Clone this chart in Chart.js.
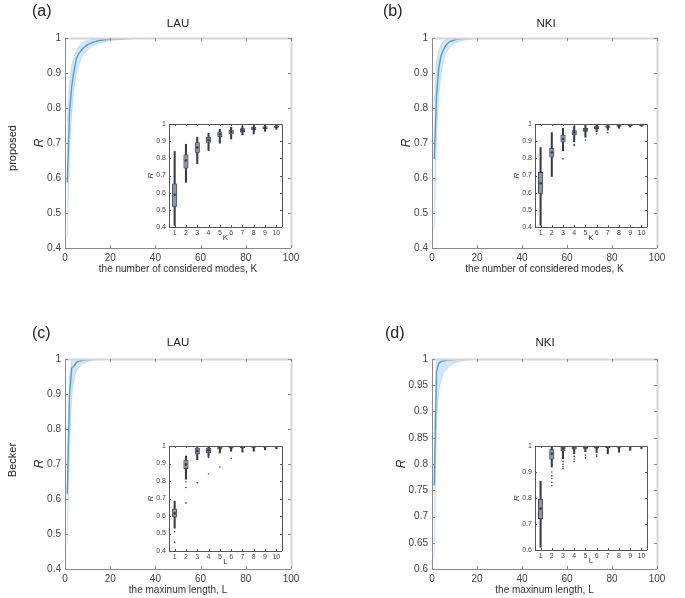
<!DOCTYPE html>
<html>
<head>
<meta charset="utf-8">
<script src="https://cdn.jsdelivr.net/npm/chart.js@4.4.1/dist/chart.umd.min.js"></script>
<style>
  body { margin: 0; background: #fff; }
  #fig { position: relative; width: 685px; height: 598px; overflow: hidden; font-family: "Liberation Sans", Arial, sans-serif; color: #222; }
  canvas { position: absolute; }
  .lbl { position: absolute; white-space: nowrap; line-height: 1; }
  .panel { font-size: 16px; }
  .ttl { font-size: 11.5px; transform: translateX(-50%); }
  .row { font-size: 11px; transform: translate(-50%, -50%) rotate(-90deg); }
</style>
</head>
<body>
<div id="fig">
  <canvas id="mainA" width="340" height="300" style="left:0;top:0"></canvas>
  <canvas id="mainB" width="345" height="300" style="left:340px;top:0"></canvas>
  <canvas id="mainC" width="340" height="298" style="left:0;top:300px"></canvas>
  <canvas id="mainD" width="345" height="298" style="left:340px;top:300px"></canvas>
  <canvas id="insetA"></canvas>
  <canvas id="insetB"></canvas>
  <canvas id="insetC"></canvas>
  <canvas id="insetD"></canvas>

  <div class="lbl panel" style="left:32px;top:3px">(a)</div>
  <div class="lbl panel" style="left:383px;top:3px">(b)</div>
  <div class="lbl panel" style="left:32px;top:325px">(c)</div>
  <div class="lbl panel" style="left:385px;top:325px">(d)</div>
  <div class="lbl ttl" style="left:178px;top:18px">LAU</div>
  <div class="lbl ttl" style="left:546px;top:18px">NKI</div>
  <div class="lbl ttl" style="left:178px;top:337px">LAU</div>
  <div class="lbl ttl" style="left:545px;top:337px">NKI</div>
  <div class="lbl row" style="left:12px;top:148px">proposed</div>
  <div class="lbl row" style="left:12px;top:460px">Becker</div>
</div>

<script>
Chart.defaults.font.family = '"Liberation Sans", Arial, sans-serif';
Chart.defaults.color = '#444';
Chart.defaults.animation = false;

// main curves: K (or L) positions and R values
const steps = [1, 2, 3, 4, 5, 6, 7, 8, 10, 12, 15, 20, 25, 30, 40, 60, 80, 100];

const lauPropMean = [0.588, 0.787, 0.863, 0.907, 0.94, 0.955, 0.963, 0.971, 0.981, 0.987, 0.993, 0.997, 0.998, 0.999, 1, 1, 1, 1];
const lauPropLow  = [0.43, 0.68, 0.79, 0.855, 0.895, 0.92, 0.94, 0.952, 0.967, 0.977, 0.986, 0.993, 0.996, 0.998, 0.999, 1, 1, 1];
const lauPropHigh = [0.76, 0.87, 0.925, 0.947, 0.963, 0.975, 0.982, 0.988, 0.993, 0.996, 0.998, 0.999, 1, 1, 1, 1, 1, 1];

const nkiPropMean = [0.655, 0.834, 0.913, 0.95, 0.965, 0.978, 0.985, 0.99, 0.995, 0.997, 0.999, 1, 1, 1, 1, 1, 1, 1];
const nkiPropLow  = [0.45, 0.72, 0.84, 0.895, 0.93, 0.955, 0.965, 0.975, 0.985, 0.99, 0.995, 0.998, 0.999, 1, 1, 1, 1, 1];
const nkiPropHigh = [0.82, 0.93, 0.965, 0.98, 0.99, 0.995, 0.997, 0.998, 0.999, 1, 1, 1, 1, 1, 1, 1, 1, 1];

const lauBeckMean = [0.615, 0.9, 0.975, 0.98, 0.99, 0.994, 0.995, 0.996, 0.998, 0.999, 1, 1, 1, 1, 1, 1, 1, 1];
const lauBeckLow  = [0.47, 0.75, 0.9, 0.945, 0.965, 0.975, 0.982, 0.987, 0.993, 0.996, 0.999, 1, 1, 1, 1, 1, 1, 1];
const lauBeckHigh = [0.685, 0.95, 0.997, 1, 1, 1, 1, 1, 1, 1, 1, 1, 1, 1, 1, 1, 1, 1];

const nkiBeckMean = [0.759, 0.975, 0.992, 0.995, 0.996, 0.997, 0.998, 0.998, 0.999, 1, 1, 1, 1, 1, 1, 1, 1, 1];
const nkiBeckLow  = [0.62, 0.88, 0.94, 0.96, 0.972, 0.978, 0.983, 0.987, 0.992, 0.995, 0.998, 1, 1, 1, 1, 1, 1, 1];
const nkiBeckHigh = [0.864, 1, 1, 1, 1, 1, 1, 1, 1, 1, 1, 1, 1, 1, 1, 1, 1, 1];

// inset boxplots, first 10 steps
const boxLabels = ['1', '2', '3', '4', '5', '6', '7', '8', '9', '10'];

const lauPropBox = {
  low:  [0.41, 0.66, 0.768, 0.845, 0.888, 0.913, 0.936, 0.942, 0.957, 0.969],
  q1:   [0.52, 0.743, 0.834, 0.892, 0.926, 0.942, 0.953, 0.965, 0.973, 0.98],
  med:  [0.588, 0.787, 0.863, 0.907, 0.94, 0.955, 0.963, 0.971, 0.977, 0.983],
  q3:   [0.652, 0.82, 0.892, 0.923, 0.954, 0.965, 0.974, 0.981, 0.985, 0.988],
  high: [0.84, 0.882, 0.923, 0.946, 0.969, 0.98, 0.988, 0.992, 0.996, 0.998],
  out:  []
};
const nkiPropBox = {
  low:  [0.41, 0.694, 0.843, 0.897, 0.923, 0.955, 0.965, 0.975, 0.982, 0.986],
  q1:   [0.595, 0.807, 0.894, 0.936, 0.957, 0.973, 0.98, 0.986, 0.99, 0.992],
  med:  [0.655, 0.834, 0.913, 0.95, 0.965, 0.978, 0.985, 0.99, 0.993, 0.995],
  q3:   [0.718, 0.859, 0.936, 0.961, 0.975, 0.985, 0.99, 0.994, 0.996, 0.997],
  high: [0.863, 0.95, 0.975, 0.988, 0.994, 1, 1, 1, 1, 1],
  out:  [['3', 0.797], ['4', 0.874], ['4', 0.88], ['5', 0.907], ['6', 0.942], ['7', 0.95]]
};
const lauBeckBox = {
  low:  [0.53, 0.81, 0.922, 0.94, 0.96, 0.97, 0.965, 0.97, 0.978, 0.984],
  q1:   [0.595, 0.871, 0.955, 0.961, 0.982, 0.988, 0.99, 0.992, 0.994, 0.995],
  med:  [0.615, 0.895, 0.972, 0.976, 0.99, 0.994, 0.995, 0.996, 0.997, 0.998],
  q3:   [0.64, 0.92, 0.988, 0.988, 0.994, 0.996, 0.997, 0.998, 0.998, 0.999],
  high: [0.685, 0.943, 1, 1, 1, 1, 1, 1, 1, 1],
  out:  [['1', 0.51], ['1', 0.45], ['2', 0.796], ['2', 0.763], ['2', 0.675], ['3', 0.79],
         ['4', 0.935], ['4', 0.84], ['5', 0.88], ['6', 0.93]]
};
const nkiBeckBox = {
  low:  [0.61, 0.919, 0.951, 0.97, 0.978, 0.975, 0.97, 0.976, 0.983, 0.99],
  q1:   [0.72, 0.949, 0.981, 0.988, 0.991, 0.992, 0.994, 0.995, 0.996, 0.997],
  med:  [0.759, 0.97, 0.99, 0.994, 0.995, 0.996, 0.997, 0.998, 0.998, 0.999],
  q3:   [0.795, 0.986, 0.996, 0.998, 0.999, 0.999, 1, 1, 1, 1],
  high: [0.864, 1, 1, 1, 1, 1, 1, 1, 1, 1],
  out:  [['2', 0.9], ['2', 0.885], ['2', 0.875], ['2', 0.86], ['2', 0.847],
         ['3', 0.94], ['3', 0.93], ['3', 0.92], ['3', 0.913],
         ['4', 0.96], ['4', 0.95], ['4', 0.94], ['5', 0.965], ['5', 0.955], ['6', 0.965], ['6', 0.96]]
};

const fmt = v => String(+v.toFixed(2));
const noGrid = { display: false, drawTicks: false, tickLength: 0 };

// matlab-like box with inward ticks on all four sides
const frame = {
  id: 'frame',
  afterDraw(chart, args, o) {
    const { ctx, chartArea: a, scales: { x, y } } = chart;
    ctx.save();
    ctx.strokeStyle = o.light;
    ctx.lineWidth = o.lightWidth;
    ctx.beginPath();
    ctx.moveTo(a.left, a.top + 0.5); ctx.lineTo(a.right + 0.5, a.top + 0.5); ctx.lineTo(a.right + 0.5, a.bottom);
    ctx.stroke();
    ctx.lineWidth = 1;
    ctx.strokeStyle = o.dark;
    ctx.beginPath();
    ctx.moveTo(a.left + 0.5, a.top); ctx.lineTo(a.left + 0.5, a.bottom + 0.5); ctx.lineTo(a.right, a.bottom + 0.5);
    x.ticks.forEach((t, i) => {
      const px = Math.round(x.getPixelForTick(i)) + 0.5;
      ctx.moveTo(px, a.bottom); ctx.lineTo(px, a.bottom - o.len);
      ctx.moveTo(px, a.top); ctx.lineTo(px, a.top + o.len);
    });
    y.ticks.forEach((t, i) => {
      const py = Math.round(y.getPixelForTick(i)) + 0.5;
      ctx.moveTo(a.left, py); ctx.lineTo(a.left + o.len, py);
      ctx.moveTo(a.right, py); ctx.lineTo(a.right - o.len, py);
    });
    ctx.stroke();
    ctx.restore();
  }
};

const whiteArea = {
  id: 'whiteArea',
  beforeDraw(chart) {
    const { ctx, chartArea: a } = chart;
    ctx.save();
    ctx.fillStyle = '#fff';
    ctx.fillRect(a.left, a.top, a.width, a.height);
    ctx.restore();
  }
};

function mainChart(id, mean, low, high, opt) {
  const pts = arr => steps.map((s, i) => ({ x: s, y: arr[i] }));
  new Chart(document.getElementById(id), {
    type: 'line',
    data: {
      datasets: [
        { data: pts(low), borderColor: 'rgba(110,175,225,0.5)', borderWidth: 0.6, pointRadius: 0, fill: false },
        { data: pts(high), borderColor: 'rgba(110,175,225,0.5)', borderWidth: 0.6, pointRadius: 0,
          fill: '-1', backgroundColor: 'rgba(110,175,225,0.3)' },
        { data: pts(mean), borderColor: 'rgb(70,150,210)', borderWidth: 1.4, pointRadius: 0, fill: false }
      ]
    },
    options: {
      responsive: false,
      layout: { padding: opt.pad },
      plugins: { legend: { display: false }, tooltip: { enabled: false },
        frame: { dark: '#8a8a8a', light: '#d6d6d6', lightWidth: 2, len: 3 } },
      scales: {
        x: {
          type: 'linear', min: 0, max: 100,
          ticks: { stepSize: 20, padding: 4, font: { size: 10 }, maxRotation: 0 },
          grid: noGrid, border: { display: false },
          title: { display: true, text: opt.xTitle, font: { size: 10 }, color: '#333', padding: 0 },
          afterFit: s => { s.height = 27; }
        },
        y: {
          min: opt.yMin, max: 1,
          ticks: { stepSize: opt.yStep, padding: 4, font: { size: 10 }, callback: fmt },
          grid: noGrid, border: { display: false },
          title: { display: true, text: 'R', font: { size: 12, style: 'italic' }, color: '#333', padding: opt.rPad },
          afterFit: s => { s.width = 45; }
        }
      }
    },
    plugins: [frame]
  });
}

function insetChart(id, box, rect, yMin, xTitle) {
  const yw = 29, padT = 8, padR = 4, xh = 16, padB = 7;
  const cv = document.getElementById(id);
  cv.width = rect.r - rect.l + yw + padR;
  cv.height = rect.b - rect.t + padT + xh + padB;
  cv.style.left = (rect.l - yw) + 'px';
  cv.style.top = (rect.t - padT) + 'px';
  const dark = 'rgb(55,58,72)';
  new Chart(cv, {
    type: 'bar',
    data: {
      labels: boxLabels,
      datasets: [
        { data: box.low.map((v, i) => [v, box.high[i]]), backgroundColor: dark,
          barThickness: 1.4, grouped: false, borderSkipped: false, order: 3 },
        { data: box.q1.map((v, i) => [v, box.q3[i]]), backgroundColor: 'rgb(142,148,168)',
          borderColor: dark, borderWidth: 0.8, barThickness: 4.5, grouped: false, borderSkipped: false, order: 2 },
        { type: 'line', data: box.med, showLine: false, pointRadius: 1.3, pointBackgroundColor: dark,
          pointBorderWidth: 0, order: 1 },
        { type: 'line', data: box.out.map(o => ({ x: o[0], y: o[1] })), showLine: false, pointRadius: 0.8,
          pointBackgroundColor: dark, pointBorderWidth: 0, order: 0 }
      ]
    },
    options: {
      responsive: false,
      layout: { padding: { left: 0, top: padT, right: padR, bottom: padB } },
      plugins: { legend: { display: false }, tooltip: { enabled: false },
        frame: { dark: '#555', light: '#555', lightWidth: 1, len: 2 } },
      scales: {
        x: {
          type: 'category', offset: true,
          ticks: { padding: 2, font: { size: 7 }, maxRotation: 0, autoSkip: false },
          grid: { ...noGrid, offset: true }, border: { display: false },
          title: { display: true, text: xTitle, font: { size: 8 }, color: '#333', padding: 0 },
          afterFit: s => { s.height = xh; }
        },
        y: {
          min: yMin, max: 1,
          ticks: { stepSize: 0.1, padding: 3, font: { size: 7 }, callback: fmt },
          grid: noGrid, border: { display: false },
          title: { display: true, text: 'R', font: { size: 8, style: 'italic' }, color: '#333', padding: 6 },
          afterFit: s => { s.width = yw; }
        }
      }
    },
    plugins: [whiteArea, frame]
  });
}

const kTitle = 'the number of considered modes, K';
const lTitle = 'the maxinum length, L';

mainChart('mainA', lauPropMean, lauPropLow, lauPropHigh,
  { pad: { left: 20, top: 38, right: 49, bottom: 25 }, xTitle: kTitle, yMin: 0.4, yStep: 0.1, rPad: 12 });
mainChart('mainB', nkiPropMean, nkiPropLow, nkiPropHigh,
  { pad: { left: 47, top: 38, right: 28, bottom: 25 }, xTitle: kTitle, yMin: 0.4, yStep: 0.1, rPad: 12 });
mainChart('mainC', lauBeckMean, lauBeckLow, lauBeckHigh,
  { pad: { left: 20, top: 59, right: 49, bottom: 2 }, xTitle: lTitle, yMin: 0.4, yStep: 0.1, rPad: 12 });
mainChart('mainD', nkiBeckMean, nkiBeckLow, nkiBeckHigh,
  { pad: { left: 47, top: 59, right: 28, bottom: 2 }, xTitle: lTitle, yMin: 0.6, yStep: 0.05, rPad: 7 });

insetChart('insetA', lauPropBox, { l: 169, t: 124, r: 282, b: 227 }, 0.4, 'K');
insetChart('insetB', nkiPropBox, { l: 535, t: 124, r: 647, b: 227 }, 0.4, 'K');
insetChart('insetC', lauBeckBox, { l: 169, t: 446, r: 282, b: 551 }, 0.4, 'L');
insetChart('insetD', nkiBeckBox, { l: 535, t: 446, r: 647, b: 550 }, 0.6, 'L');
</script>
</body>
</html>
